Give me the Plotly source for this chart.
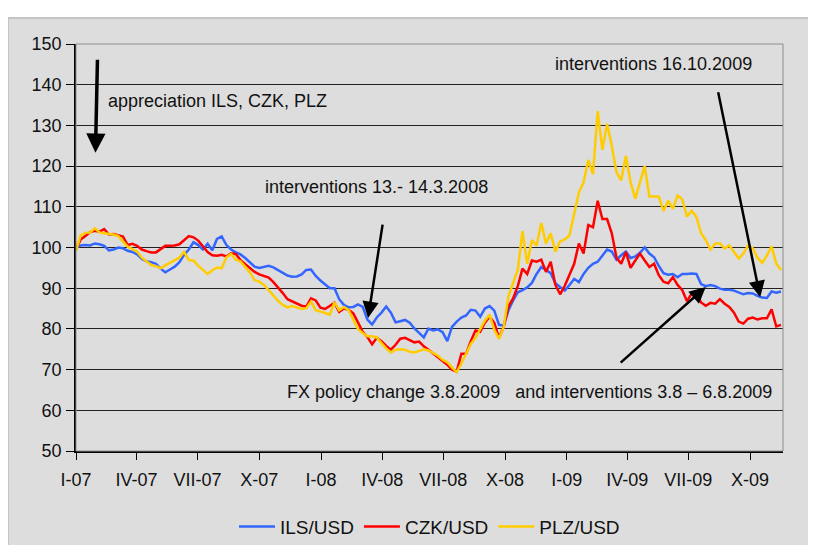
import pandas as pd
import plotly.graph_objects as go

# weekly observations, index 100 = start of 2007
ils_usd = [100.0, 100.5, 100.6, 100.5, 101.0, 100.8, 100.4, 99.3, 99.5, 100.0,
           99.8, 99.2, 98.9, 98.3, 97.2, 96.6, 96.4, 96.0, 94.8, 93.9,
           94.6, 95.3, 96.4, 98.2, 99.5, 101.3, 100.6, 99.5, 100.9, 99.3,
           102.1, 102.7, 100.6, 99.5, 98.8, 98.3, 97.4, 96.4, 95.3, 95.0,
           95.3, 95.5, 95.1, 94.4, 93.7, 93.1, 92.8, 92.9, 93.4, 94.5,
           94.6, 93.0, 91.9, 91.0, 90.0, 90.0, 87.3, 85.9, 85.3, 85.4,
           86.0, 85.4, 82.3, 81.1, 82.8, 84.0, 85.5, 84.0, 81.6, 81.9,
           82.2, 81.5, 80.1, 79.0, 77.9, 80.1, 79.6, 79.9, 79.2, 77.0,
           80.5, 81.8, 82.8, 83.3, 84.7, 84.5, 83.0, 85.0, 85.6, 84.5,
           81.0, 80.8, 84.5, 87.0, 89.0, 89.5, 90.2, 91.3, 93.5, 95.2,
           94.5, 93.7, 91.2, 90.2, 89.4, 90.8, 92.3, 91.5, 93.5, 95.0,
           96.0, 96.5, 98.0, 99.5, 99.0, 97.0, 98.1, 99.0, 97.4, 97.8,
           98.7, 100.0, 98.5, 97.6, 95.5, 93.7, 93.3, 93.5, 92.7, 93.5,
           93.5, 93.6, 93.5, 91.0, 90.5, 90.8, 90.5, 89.9, 89.6, 89.6,
           89.4, 89.0, 88.5, 88.8, 88.7, 88.1, 87.7, 87.6, 89.2, 88.9,
           89.2]

czk_usd = [99.5, 102.0, 102.8, 103.8, 104.1, 103.9, 104.5, 103.2, 103.3, 103.0,
           102.7, 100.6, 100.9, 100.4, 99.5, 99.1, 98.8, 98.8, 99.6, 100.4,
           100.4, 100.5, 100.8, 101.9, 102.8, 102.5, 101.7, 100.3, 98.9, 98.1,
           98.0, 98.2, 97.8, 98.6, 98.4, 96.9, 95.9, 95.1, 94.0, 93.4,
           93.0, 92.6, 91.5, 90.2, 88.8, 87.3, 86.7, 86.1, 85.7, 85.5,
           87.5, 87.0, 85.2, 84.9, 85.6, 86.4, 84.2, 85.0, 84.7, 83.8,
           81.6, 79.3, 78.0, 76.2, 77.8, 77.0, 75.8, 74.9, 76.1, 77.6,
           77.8, 77.2, 76.7, 76.9, 75.7, 74.9, 74.0, 73.1, 72.3, 71.2,
           70.0, 69.5, 73.9, 73.9, 77.0, 79.6, 79.3, 81.5, 83.0, 81.5,
           77.8, 80.5, 85.5, 87.5, 90.5, 94.8, 93.5, 96.8, 96.5, 97.0,
           94.0, 96.5, 90.8, 88.5, 90.6, 93.5, 96.0, 101.0, 98.5, 105.5,
           105.0, 111.5, 107.0, 107.0, 103.5, 97.5, 96.0, 98.9, 95.0, 96.8,
           98.5, 96.8, 95.2, 96.0, 93.2, 91.6, 91.2, 92.7, 90.8, 89.5,
           86.8, 88.7, 88.8, 86.5, 85.7, 86.4, 86.2, 87.3, 86.2, 85.4,
           84.0, 81.8, 81.3, 82.5, 82.8, 82.3, 82.6, 82.6, 84.8, 80.6,
           81.0]

plz_usd = [99.2, 103.0, 103.6, 103.7, 104.7, 103.7, 103.5, 103.3, 103.2, 102.8,
           101.5, 100.2, 99.6, 99.0, 97.5, 96.5, 95.7, 95.4, 94.9, 95.6,
           96.2, 96.9, 97.5, 98.9, 96.9, 96.8, 95.5, 94.5, 93.5, 94.4,
           95.1, 94.9, 97.6, 98.4, 97.0, 96.6, 95.2, 93.9, 92.0, 91.6,
           90.8, 89.5, 88.3, 86.9, 85.9, 85.3, 85.6, 85.3, 84.9, 85.1,
           86.7, 84.6, 84.3, 83.9, 83.5, 86.5, 84.6, 85.4, 84.6, 82.4,
           80.0, 79.0, 78.2, 78.2, 77.9, 76.5, 75.2, 74.2, 74.9, 75.0,
           74.9, 74.4, 74.2, 74.6, 75.0, 74.7, 74.0, 73.4, 72.4, 71.8,
           70.5, 69.4, 71.5, 73.8, 76.3, 77.8, 79.8, 82.0, 83.5, 79.8,
           77.6, 80.5, 88.0, 91.0, 94.5, 104.0, 96.0, 101.8, 100.5, 106.0,
           101.0, 103.5, 99.0, 101.5, 102.0, 103.0, 108.5, 113.5, 116.0, 121.5,
           118.0, 133.5, 124.0, 130.4, 125.0, 118.5, 116.5, 122.5, 116.0, 112.0,
           116.0, 120.0, 112.5, 112.5, 112.5, 109.0, 111.5, 109.5, 112.8, 111.8,
           107.6, 109.0, 107.5, 103.5, 101.8, 99.5, 101.0, 101.0, 99.8, 100.5,
           99.0, 97.3, 98.5, 100.5, 99.8, 97.5, 96.2, 98.0, 100.3, 96.0,
           94.5]

dates = pd.date_range(start="2007-01-01", periods=len(ils_usd), freq="7D")

tick_dates = ["2007-01-01", "2007-04-01", "2007-07-01", "2007-10-01",
              "2008-01-01", "2008-04-01", "2008-07-01", "2008-10-01",
              "2009-01-01", "2009-04-01", "2009-07-01", "2009-10-01"]
tick_labels = ["I-07", "IV-07", "VII-07", "X-07", "I-08", "IV-08", "VII-08",
               "X-08", "I-09", "IV-09", "VII-09", "X-09"]
y_ticks = [50, 60, 70, 80, 90, 100, 110, 120, 130, 140, 150]

series = [("ILS/USD", ils_usd, "#3366FF"),
          ("CZK/USD", czk_usd, "#FF0000"),
          ("PLZ/USD", plz_usd, "#FFCC00")]

FONT = "Liberation Sans, Arial, sans-serif"
BG = "#DDDDDD"

fig = go.Figure()
for name, vals, col in series:
    fig.add_trace(go.Scatter(x=dates, y=vals, mode="lines", name=name,
                             line=dict(color=col, width=2.5)))

fig.update_layout(
    width=808, height=537,
    margin=dict(l=68, r=33, t=36, b=94),
    paper_bgcolor="white", plot_bgcolor=BG,
    font=dict(family=FONT, size=18, color="#111111"),
    showlegend=True,
    legend=dict(orientation="h", x=0.5, xanchor="center",
                yref="container", y=0.034, yanchor="middle",
                font=dict(size=19, family=FONT),
                bgcolor="rgba(0,0,0,0)", itemwidth=36, tracegroupgap=0),
    xaxis=dict(type="date", range=["2007-01-01", "2009-11-19"],
               tickmode="array", tickvals=tick_dates, ticktext=tick_labels,
               showgrid=False, zeroline=False, showline=True,
               linecolor="#000000", linewidth=1.5, automargin=False,
               ticks="outside", ticklen=7, tickcolor="#000000", tickwidth=1,
               ticklabelstandoff=5,
               tickfont=dict(size=18, family=FONT, color="#111111")),
    yaxis=dict(range=[50, 150], tickmode="array", tickvals=y_ticks,
               showgrid=True, gridcolor="#222222", gridwidth=1,
               zeroline=False, showline=True, linecolor="#000000", linewidth=1.5,
               automargin=False,
               ticks="outside", ticklen=8, tickcolor="#000000", tickwidth=1,
               ticklabelstandoff=1,
               tickfont=dict(size=18, family=FONT, color="#111111")),
    shapes=[
        dict(type="rect", xref="paper", yref="paper", x0=-0.0962, x1=1.2,
             y0=-0.3, y1=1.0639, fillcolor=BG,
             line=dict(color="#C4C4C4", width=2), layer="below"),
        dict(type="rect", xref="paper", yref="paper", x0=0, x1=1, y0=0, y1=1,
             line=dict(color="#8C8C8C", width=1), fillcolor="rgba(0,0,0,0)",
             layer="above"),
    ],
)

ann_font = dict(family=FONT, size=18, color="#111111")
texts = [
    ("2007-02-15", 136.0, "appreciation ILS, CZK, PLZ"),
    ("2008-12-11", 145.1, "interventions 16.10.2009"),
    ("2007-10-07", 114.9, "interventions 13.- 14.3.2008"),
    ("2007-11-09", 64.5, "FX policy change 3.8.2009\u00a0\u00a0 and interventions 3.8 \u2013 6.8.2009"),
]
for x, y, t in texts:
    fig.add_annotation(x=x, y=y, text=t, showarrow=False, xanchor="left",
                       yanchor="middle", font=ann_font)

arrows = [
    # (tip x, tip y, tail x, tail y, width, size)
    ("2007-01-30", 123.3, "2007-02-02", 146.5, 3.5, 1.1),
    ("2008-03-11", 82.7, "2008-04-02", 106.0, 2.5, 1.3),
    ("2009-10-16", 87.8, "2009-08-14", 138.5, 2.5, 1.3),
    ("2009-07-27", 90.3, "2009-03-20", 71.4, 2.5, 1.3),
]
for tx, ty, sx, sy, w, s in arrows:
    fig.add_annotation(x=tx, y=ty, ax=sx, ay=sy, axref="x", ayref="y",
                       xref="x", yref="y", text="", showarrow=True,
                       arrowhead=2, arrowwidth=w, arrowsize=s,
                       arrowcolor="#000000")

fig.write_html("out.html")
